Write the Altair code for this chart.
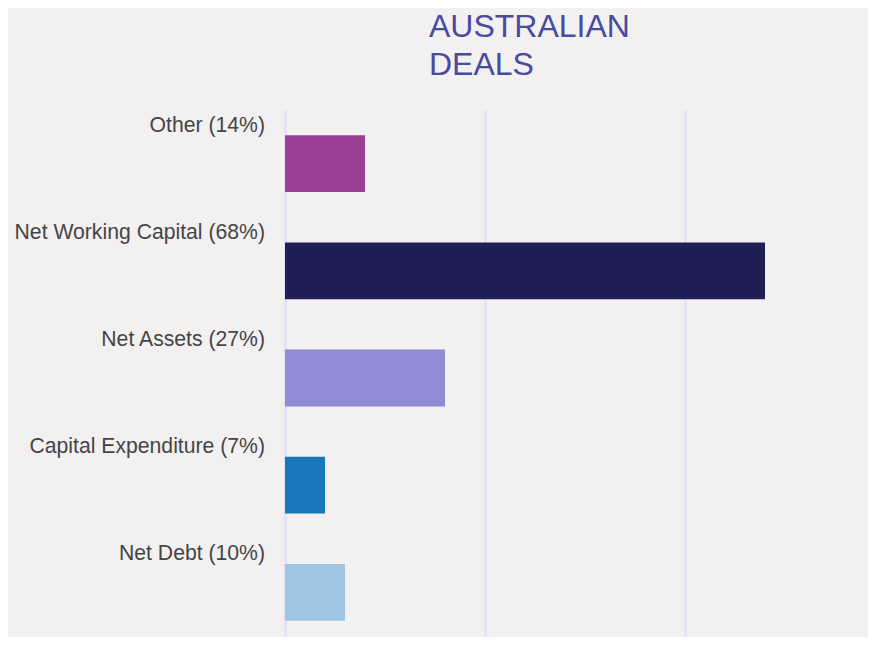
import altair as alt
import pandas as pd

categories = ["Other", "Net Working Capital", "Net Assets", "Capital Expenditure", "Net Debt"]
shares = ["14%", "68%", "27%", "7%", "10%"]
counts = [4, 24, 8, 2, 3]
colors = ["#9b4095", "#201f55", "#8f8bd4", "#1677bb", "#9fc5e5"]
title_lines = ["AUSTRALIAN", "DEALS"]
x_ticks = [0, 10, 20]

df = pd.DataFrame({
    "category": categories,
    "count": counts,
    "label": [f"{c} ({s})" for c, s in zip(categories, shares)],
})

y_enc = alt.Y(
    "category:N",
    sort=categories,
    axis=None,
    scale=alt.Scale(range=[0, 536], paddingInner=0.47, paddingOuter=0.235),
)

bars = alt.Chart(df).mark_bar().encode(
    x=alt.X(
        "count:Q",
        scale=alt.Scale(domain=[0, 29.15], nice=False),
        axis=alt.Axis(
            orient="top", values=x_ticks, labels=False, ticks=False, domain=False, title=None,
            grid=True, gridColor="#e3e3f1", gridWidth=3,
        ),
    ),
    y=y_enc,
    color=alt.Color("category:N", scale=alt.Scale(domain=categories, range=colors), legend=None),
)

labels = alt.Chart(df).mark_text(
    align="right", baseline="alphabetic", dy=-32, fontSize=21.2,
    font="Liberation Sans", color="#454545",
).encode(
    x=alt.value(-20),
    y=y_enc,
    text="label:N",
)

chart = (bars + labels).properties(
    width=583,
    height=527,
    background="#f2f0f1",
    autosize="none",
    padding={"left": 277, "top": 102, "right": 0, "bottom": 0},
    title=alt.TitleParams(
        text=title_lines, anchor="start", frame="group", dx=144, offset=28, fontSize=32,
        font="Liberation Sans", fontWeight="normal", color="#4a4a9e", lineHeight=38,
    ),
).configure_view(stroke=None)

chart.save("out.html", embed_options={"renderer": "svg", "actions": False})
